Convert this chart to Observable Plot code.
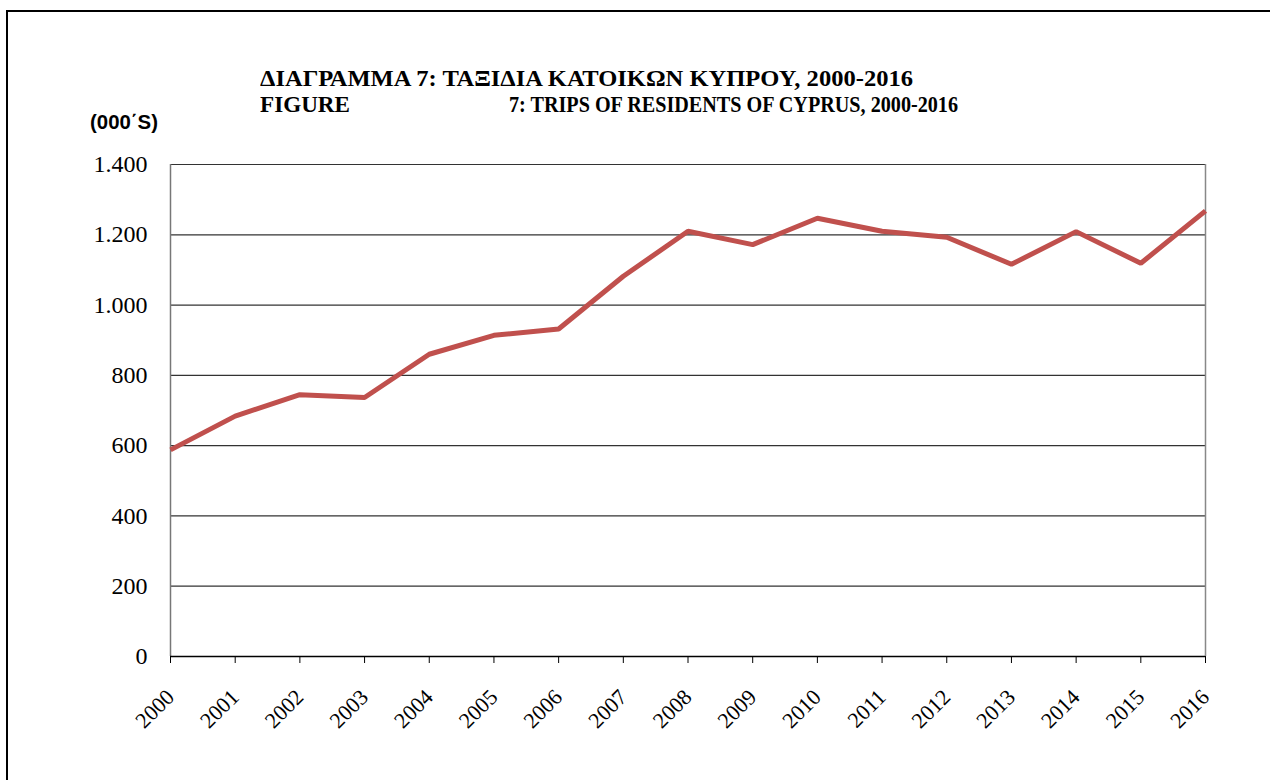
<!DOCTYPE html>
<html>
<head>
<meta charset="utf-8">
<script src="https://cdn.jsdelivr.net/npm/d3@7"></script>
<script src="https://cdn.jsdelivr.net/npm/@observablehq/plot@0.6"></script>
<style>
  html, body { margin: 0; padding: 0; background: #fff; }
  #wrap { position: relative; width: 1270px; height: 780px; overflow: hidden; }
  #border { position: absolute; left: 6px; top: 10px; width: 1400px; height: 900px; border-left: 2px solid #000; border-top: 2px solid #000; box-sizing: border-box; }
  .title { position: absolute; font-family: "Liberation Serif", "Times New Roman", serif; font-weight: bold; font-size: 23px; color: #000; white-space: nowrap; line-height: 24px; height: 24px; transform-origin: 0 0; }
  #unit { position: absolute; left: 90px; top: 111px; font-family: "Liberation Sans", Arial, sans-serif; font-weight: bold; font-size: 21px; white-space: nowrap; line-height: 1; transform-origin: 0 0; }
  #chart { position: absolute; left: 0; top: 0; }
</style>
</head>
<body>
<div id="wrap">
  <div id="border"></div>
  <div class="title fit" data-w="653" style="left:260px; top:67px;">ΔΙΑΓΡΑΜΜΑ 7: ΤΑΞΙΔΙΑ ΚΑΤΟΙΚΩΝ ΚΥΠΡΟΥ, 2000-2016</div>
  <div class="title fit" data-w="90" style="left:260px; top:93px;">FIGURE</div>
  <div class="title fit" data-w="449" style="left:509px; top:93px;">7: TRIPS OF RESIDENTS OF CYPRUS, 2000-2016</div>
  <div id="unit" class="fit" data-w="68">(000΄S)</div>
  <div id="chart"></div>
</div>
<script>
const years = [2000, 2001, 2002, 2003, 2004, 2005, 2006, 2007, 2008, 2009, 2010, 2011, 2012, 2013, 2014, 2015, 2016];
const trips = [588, 684, 745, 737, 860, 914, 932, 1082, 1210, 1172, 1247, 1210, 1193, 1116, 1209, 1119, 1268];
const yTicks = [0, 200, 400, 600, 800, 1000, 1200, 1400];
const gridValues = [200, 400, 600, 800, 1000, 1200, 1400];

const data = years.map((y, i) => ({year: y, value: trips[i]}));
const fmt = d => d3.format(",")(d).replace(/,/g, ".");

const chart = Plot.plot({
  width: 1270,
  height: 780,
  marginTop: 164,
  marginRight: 65,
  marginBottom: 124,
  marginLeft: 170,
  style: {fontFamily: "'Liberation Serif', 'Times New Roman', serif", background: "transparent", color: "#000"},
  x: {domain: [2000, 2016]},
  y: {domain: [0, 1400]},
  marks: [
    Plot.ruleY(gridValues, {stroke: "#333", strokeWidth: 1.2}),
    Plot.ruleX([2016], {stroke: "#888", strokeWidth: 1.5}),
    Plot.ruleX([2000], {stroke: "#777", strokeWidth: 1.5}),
    Plot.axisY({ticks: yTicks, tickSize: 0, tickPadding: 23, tickFormat: fmt, fontSize: 24, label: null}),
    Plot.axisX({ticks: years, tickFormat: d => String(d), tickRotate: -45, tickSize: 7, tickPadding: 30, fontSize: 22, label: null, stroke: "#000"}),
    Plot.ruleY([0], {stroke: "#000", strokeWidth: 1.5}),
    Plot.line(data, {x: "year", y: "value", stroke: "#C0504D", strokeWidth: 5, strokeLinejoin: "miter", strokeLinecap: "butt"})
  ]
});
document.getElementById("chart").appendChild(chart);

function fitAll() {
  document.querySelectorAll(".fit").forEach(el => {
    el.style.transform = "none";
    const w = el.getBoundingClientRect().width;
    const target = +el.dataset.w;
    if (w > 0) el.style.transform = `scaleX(${target / w})`;
  });
}
fitAll();
if (document.fonts && document.fonts.ready) document.fonts.ready.then(fitAll);
</script>
</body>
</html>
